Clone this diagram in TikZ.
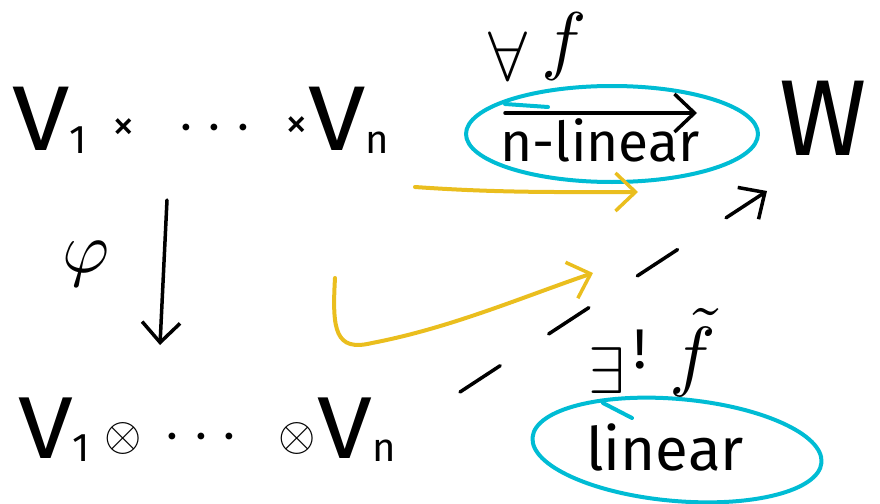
\documentclass[tikz,border=0pt]{standalone}
\usepackage{fontspec}
\setmainfont{Fira Sans}
\usetikzlibrary{arrows.meta}
\definecolor{hcyan}{RGB}{0,188,212}
\definecolor{hyellow}{RGB}{234,190,30}
\newcommand\hsub[1]{\raisebox{-3pt}{\fontsize{40}{40}\selectfont #1}}
\newcommand\fs[1]{\fontsize{#1}{#1}\selectfont}
\newcommand\wideV[1]{\scalebox{1.12}[1]{\fs{#1}V}}
\newcommand\msym[2]{\scalebox{#1}{$#2$}}
\begin{document}
\begin{tikzpicture}[x=1pt,y=-1pt,
  ink/.style={line width=3.5pt, line cap=round, line join=round},
  hl/.style={line width=4pt, line cap=round, line join=round, draw=#1},
  barb/.style={-{Straight Barb[length=20pt,width=38pt,line width=3.5pt]}},
  lbl/.style={inner sep=0pt, anchor=base west},
]
\useasboundingbox (0,0) rectangle (880,503);

% texts
\node[lbl] (prod) at (12,150) {\wideV{92}\hsub{1}\hspace{26pt}\raisebox{10pt}{\fs{45}×}\hspace{42pt}\raisebox{6pt}{\msym{6.4}{\cdots}}\hspace{34pt}\raisebox{12pt}{\fs{45}×}\wideV{92}\hsub{n}};
\node[lbl] (tens) at (18,458) {\wideV{88}\hsub{1}\hspace{14pt}\raisebox{8pt}{\msym{4.8}{\otimes}}\hspace{22pt}\raisebox{6pt}{\msym{6.4}{\cdots}}\hspace{40pt}\raisebox{8pt}{\msym{4.8}{\otimes}}\hspace{2pt}\wideV{88}\hsub{n}};
\node[inner sep=0pt] (phi) at (86,264) {\msym{7.2}{\varphi}};
\node[lbl] (forall) at (488,80) {\msym{7}{\forall}\hspace{14pt}\raisebox{14pt}{\msym{7.6}{f}}};
\node[lbl] (exists) at (588,393) {\msym{6.6}{\exists}\hspace{9pt}\raisebox{25pt}{\fs{56}!}\hspace{22pt}\raisebox{12pt}{\msym{7.8}{\tilde{f}}}};
\node[inner sep=0pt, anchor=base, font=\fs{55}] (nlin) at (600,161) {n-linear};
\node[inner sep=0pt, anchor=base, font=\fs{60}] (lin) at (665,470) {linear};
\node[inner sep=0pt, anchor=base west] (W) at (779,155) {\scalebox{0.98}[1]{\fs{108}W}};

% highlight ellipses
\draw[hl=hcyan] (612,134) ellipse [x radius=146, y radius=48];
\draw[hl=hcyan] (505,104) -- (548,107);
\draw[hl=hcyan, rotate around={-5:(677,450)}] (677,450) ellipse [x radius=145, y radius=51];
\draw[hl=hcyan] (603,403) -- (632,418);

% black arrows
\coordinate (a0) at (167,200);
\coordinate (a1) at (160,345);
\draw[ink, barb] (a0) -- (a1);
\coordinate (b0) at (505,113);
\coordinate (b1) at (697,113);
\draw[ink, barb] (b0) -- (b1);
\coordinate (d0) at (460,392);
\coordinate (d1) at (767,191);
\draw[ink, barb, dash pattern=on 48pt off 58pt] (d0) -- (d1);

% yellow arrows
\coordinate (y0) at (415,187);
\coordinate (y1) at (638,192);
\draw[hl=hyellow, barb] (y0) .. controls (500,193) and (560,192) .. (y1);
\coordinate (z0) at (335,278);
\coordinate (z1) at (593,273);
\draw[hl=hyellow, barb] (z0) .. controls (332,330) and (335,352) .. (372,343) .. controls (450,328) and (520,298) .. (z1);
\end{tikzpicture}
\end{document}
